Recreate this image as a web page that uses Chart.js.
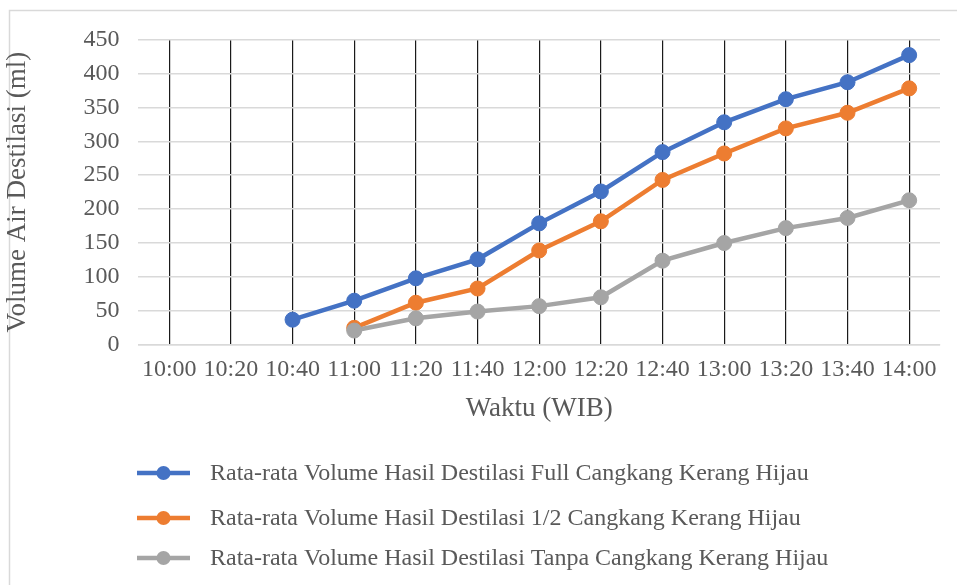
<!DOCTYPE html>
<html>
<head>
<meta charset="utf-8">
<script src="https://cdn.jsdelivr.net/npm/chart.js@4"></script>
<style>
  html, body { margin: 0; padding: 0; background: #fff; }
  #wrap { width: 957px; height: 585px; position: relative; }
</style>
</head>
<body>
<div id="wrap"><canvas id="volumeChart"></canvas></div>
<script>
const waktu = ['10:00', '10:20', '10:40', '11:00', '11:20', '11:40', '12:00', '12:20', '12:40', '13:00', '13:20', '13:40', '14:00'];
const fullCangkang = [null, null, 37, 65, 98, 126, 179, 226, 284, 328, 362, 387, 427];
const setengahCangkang = [null, null, null, 25, 62, 83, 139, 182, 243, 282, 319, 342, 378];
const tanpaCangkang = [null, null, null, 21, 39, 49, 57, 70, 124, 150, 172, 187, 213];
const yTicks = [0, 50, 100, 150, 200, 250, 300, 350, 400, 450];

const namaSeri = [
    'Rata-rata Volume Hasil Destilasi Full Cangkang Kerang Hijau',
    'Rata-rata Volume Hasil Destilasi 1/2 Cangkang Kerang Hijau',
    'Rata-rata Volume Hasil Destilasi Tanpa Cangkang Kerang Hijau'
];
const warna = ['#4472C4', '#ED7D31', '#A5A5A5'];
const fontSerif = '"Liberation Serif", "Times New Roman", serif';

// border + legend drawn by hand (line with marker like excel)
const excelBits = {
    id: 'excelBits',
    beforeDraw(chart) {
        const c = chart.ctx;
        c.save();
        c.fillStyle = '#fff';
        c.fillRect(0, 0, chart.width, chart.height);
        c.strokeStyle = '#d9d9d9';
        c.lineWidth = 1.5;
        c.strokeRect(9.5, 10.5, chart.width + 10, chart.height + 10);
        c.restore();
    },
    afterDraw(chart) {
        const c = chart.ctx;
        const rows = [473, 518, 558];
        c.save();
        chart.data.datasets.forEach((ds, i) => {
            const y = rows[i];
            c.strokeStyle = ds.borderColor;
            c.lineWidth = 4.5;
            c.beginPath();
            c.moveTo(137, y);
            c.lineTo(190, y);
            c.stroke();
            c.fillStyle = ds.borderColor;
            c.beginPath();
            c.arc(163.5, y, 7, 0, Math.PI * 2);
            c.fill();
            c.fillStyle = '#595959';
            c.font = '24px ' + fontSerif;
            c.textBaseline = 'middle';
            c.fillText(ds.label, 210, y + 1);
        });
        c.restore();
    }
};

function seri(i, data, order) {
    return {
        label: namaSeri[i],
        data: data,
        borderColor: warna[i],
        backgroundColor: warna[i],
        borderWidth: 4.5,
        pointRadius: 7.5,
        pointBorderWidth: 1,
        pointBorderColor: warna[i],
        pointBackgroundColor: warna[i],
        tension: 0,
        spanGaps: false,
        order: order
    };
}

const ctx = document.getElementById('volumeChart').getContext('2d');

new Chart(ctx, {
    type: 'line',
    data: {
        labels: waktu,
        datasets: [
            seri(0, fullCangkang, 2),
            seri(1, setengahCangkang, 1),
            seri(2, tanpaCangkang, 0)
        ]
    },
    options: {
        responsive: true,
        maintainAspectRatio: false,
        animation: false,
        layout: {
            padding: { left: 2, right: 17, top: 39.5, bottom: 160 }
        },
        plugins: {
            legend: { display: false },
            tooltip: { enabled: false }
        },
        scales: {
            x: {
                offset: true,
                grid: {
                    offset: false,
                    color: '#1a1a1a',
                    lineWidth: 1.2,
                    drawTicks: false
                },
                border: { display: true, color: '#d9d9d9', width: 1.5 },
                ticks: {
                    color: '#595959',
                    font: { family: fontSerif, size: 24 },
                    padding: 11,
                    maxRotation: 0,
                    autoSkip: false
                },
                title: {
                    display: true,
                    text: 'Waktu (WIB)',
                    color: '#595959',
                    font: { family: fontSerif, size: 27 },
                    padding: { top: -3, bottom: 0 }
                }
            },
            y: {
                min: 0,
                max: 450,
                afterBuildTicks: axis => {
                    axis.ticks = yTicks.map(v => ({ value: v }));
                },
                grid: {
                    color: '#d9d9d9',
                    lineWidth: 1.5,
                    drawTicks: false
                },
                border: { display: false },
                ticks: {
                    color: '#595959',
                    font: { family: fontSerif, size: 24 },
                    padding: 19
                },
                title: {
                    display: true,
                    text: 'Volume Air Destilasi (ml)',
                    color: '#595959',
                    font: { family: fontSerif, size: 27 },
                    padding: { top: 0, bottom: 30 }
                }
            }
        }
    },
    plugins: [excelBits]
});
</script>
</body>
</html>
